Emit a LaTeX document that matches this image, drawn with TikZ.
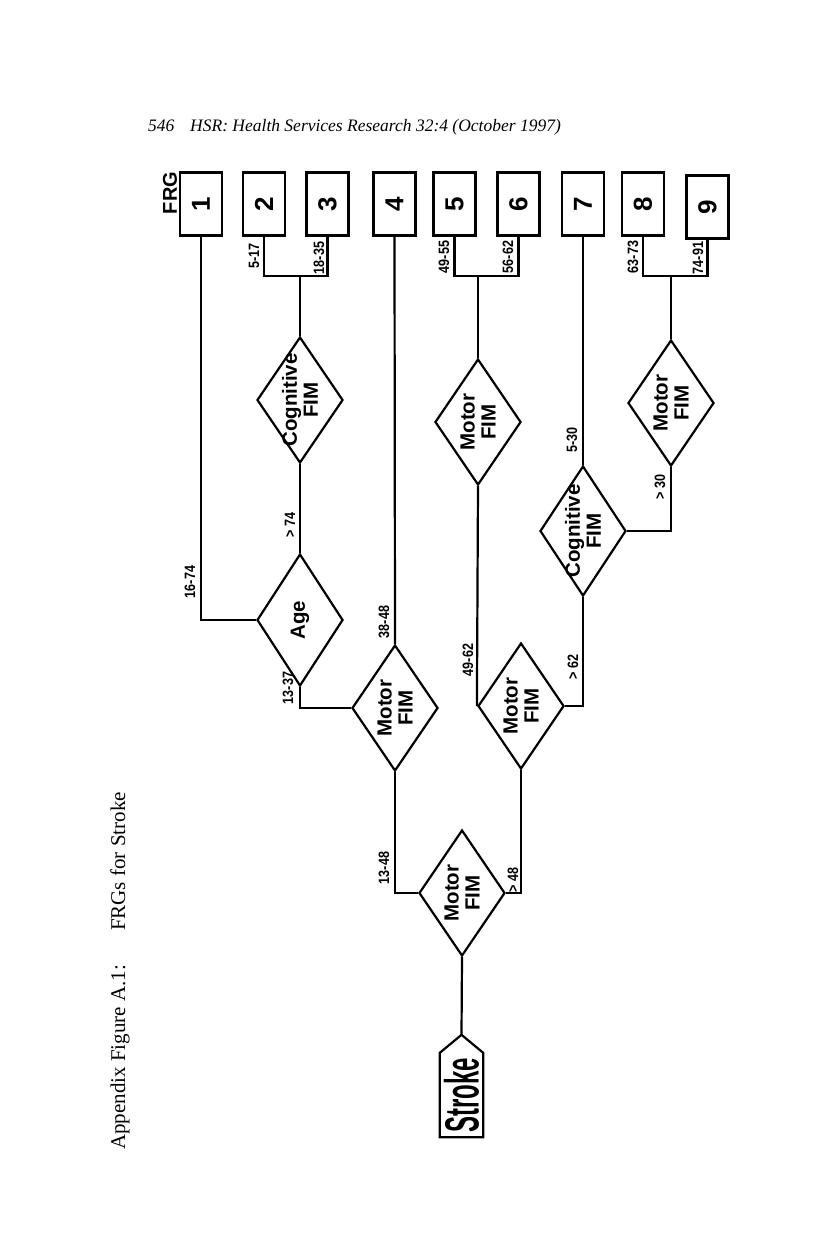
\documentclass[tikz,border=0pt]{standalone}
\usepackage{fontspec}
\setmainfont{Liberation Serif}
\setsansfont{Liberation Sans}
\usetikzlibrary{shapes.geometric,calc}
\newcommand{\cond}[1]{\scalebox{0.84}[1]{#1}}
\begin{document}
\begin{tikzpicture}[x=1pt,y=-1pt,
  conn/.style={line width=2.2pt},
  frgbox/.style={draw,line width=2.2pt,minimum width=42pt,minimum height=63pt,inner sep=0pt,font=\sffamily\bfseries\fontsize{26}{26}\selectfont},
  dia/.style={draw,shape=diamond,line width=2.2pt,minimum width=86pt,minimum height=126pt,inner sep=0pt},
  dtext/.style={rotate=90,align=center,font=\sffamily\bfseries\fontsize{20.5}{21}\selectfont,inner sep=0pt},
  lbl/.style={rotate=90,font=\sffamily\bfseries\fontsize{15}{15}\selectfont,inner sep=0pt},
  hdr/.style={font=\itshape\fontsize{17.5}{17.5}\selectfont,inner sep=0pt,anchor=base west},
]
\useasboundingbox[fill=white] (0,0) rectangle (816,1258);

% header and caption
\node[hdr] (pg) at (148,131) {546};
\node[hdr] (jr) at (190,131) {HSR: Health Services Research 32:4 (October 1997)};
\node[rotate=90,anchor=base west,inner sep=0pt,font=\fontsize{21}{21}\selectfont] (cap) at (125,1150) {Appendix Figure A.1:\hspace{34pt}FRGs for Stroke};

% FRG boxes
\node[rotate=90,inner sep=0pt,font=\sffamily\bfseries\fontsize{20}{20}\selectfont] (frg) at (170,193) {FRG};
\node[frgbox] (b1) at (201,204) {\rotatebox{90}{1}};
\node[frgbox] (b2) at (264,204) {\rotatebox{90}{2}};
\node[frgbox] (b3) at (327.5,204) {\rotatebox{90}{3}};
\node[frgbox] (b4) at (394.5,204) {\rotatebox{90}{4}};
\node[frgbox] (b5) at (454.5,204) {\rotatebox{90}{5}};
\node[frgbox] (b6) at (518.5,204) {\rotatebox{90}{6}};
\node[frgbox] (b7) at (583,204) {\rotatebox{90}{7}};
\node[frgbox] (b8) at (643,204) {\rotatebox{90}{8}};
\node[frgbox] (b9) at (707.5,207) {\rotatebox{90}{9}};

% junctions
\coordinate (j23) at (300,276);
\coordinate (j56) at (478,276);
\coordinate (j89) at (671,276);

% diamonds
\node[dia] (d0) at (462,893) {};
\node[dia] (d1) at (395,708) {};
\node[dia,minimum height=132pt] (d2) at (300,620) {};
\node[dia] (d3) at (300,400) {};
\node[dia] (d4) at (521,706) {};
\node[dia] (d5) at (478,422) {};
\node[dia,minimum height=130pt] (d6) at (583,531) {};
\node[dia] (d7) at (671,403) {};

\node[dtext] (t0) at (d0) {Motor\\FIM};
\node[dtext] (t1) at (d1) {Motor\\FIM};
\node[dtext] (t2) at (d2) {Age};
\node[dtext] (t3) at (d3) {Cognitive\\FIM};
\node[dtext] (t4) at (d4) {Motor\\FIM};
\node[dtext] (t5) at (d5) {Motor\\FIM};
\node[dtext] (t6) at (d6) {Cognitive\\FIM};
\node[dtext] (t7) at (d7) {Motor\\FIM};

% Stroke
\node[minimum width=43pt,minimum height=84pt,inner sep=0pt] (stroke) at (461.5,1095) {\rotatebox{90}{\scalebox{0.5}[1]{\sffamily\bfseries\fontsize{48}{48}\selectfont Stroke}}};
\coordinate (stip) at ([yshift=18pt]stroke.north);
\draw[conn] (stroke.south west) -- (stroke.north west) -- (stip) -- (stroke.north east) -- (stroke.south east) -- cycle;

% connectors
\draw[conn] (stip) -- (d0.south);
\draw[conn] (d0.west) -| (d1.south);
\draw[conn] (d0.east) -| (d4.south);
\draw[conn] (d1.west) -| (d2.south);
\draw[conn] (d1.north) -- (b4.south);
\draw[conn] (d2.west) -| (b1.south);
\draw[conn] (d2.north) -- (d3.south);
\draw[conn] (d3.north) -- (j23);
\draw[conn] (b2.south) -- (b2.south |- j23) -- (b3.south |- j23) -- (b3.south);
\draw[conn] (d4.west) -- (d5.south);
\draw[conn] (d4.east) -| (d6.south);
\draw[conn] (d5.north) -- (j56);
\draw[conn] (b5.south) -- (b5.south |- j56) -- (b6.south |- j56) -- (b6.south);
\draw[conn] (d6.north) -- (b7.south);
\draw[conn] (d6.east) -| (d7.south);
\draw[conn] (d7.north) -- (j89);
\draw[conn] (b8.south) -- (b8.south |- j89) -- (b9.south |- j89) -- (b9.south);

% labels
\node[lbl] (l517) at (254,256) {\cond{5-17}};
\node[lbl] (l1835) at (319,258) {\cond{18-35}};
\node[lbl] (l4955) at (444,257) {\cond{49-55}};
\node[lbl] (l5662) at (508,257) {\cond{56-62}};
\node[lbl] (l6373) at (633,257) {\cond{63-73}};
\node[lbl] (l7491) at (698,258) {\cond{74-91}};
\node[lbl] (l1674) at (190,582) {\cond{16-74}};
\node[lbl] (l74) at (290,525) {\cond{> 74}};
\node[lbl] (l1337) at (288,688) {\cond{13-37}};
\node[lbl] (l3848) at (384,622) {\cond{38-48}};
\node[lbl] (l4962) at (468,660) {\cond{49-62}};
\node[lbl] (l62) at (573,667) {\cond{> 62}};
\node[lbl] (l530) at (572,440) {\cond{5-30}};
\node[lbl] (l30) at (660,487) {\cond{> 30}};
\node[lbl] (l1348) at (384,868) {\cond{13-48}};
\node[lbl] (l48) at (513,880) {\cond{> 48}};
\end{tikzpicture}
\end{document}
